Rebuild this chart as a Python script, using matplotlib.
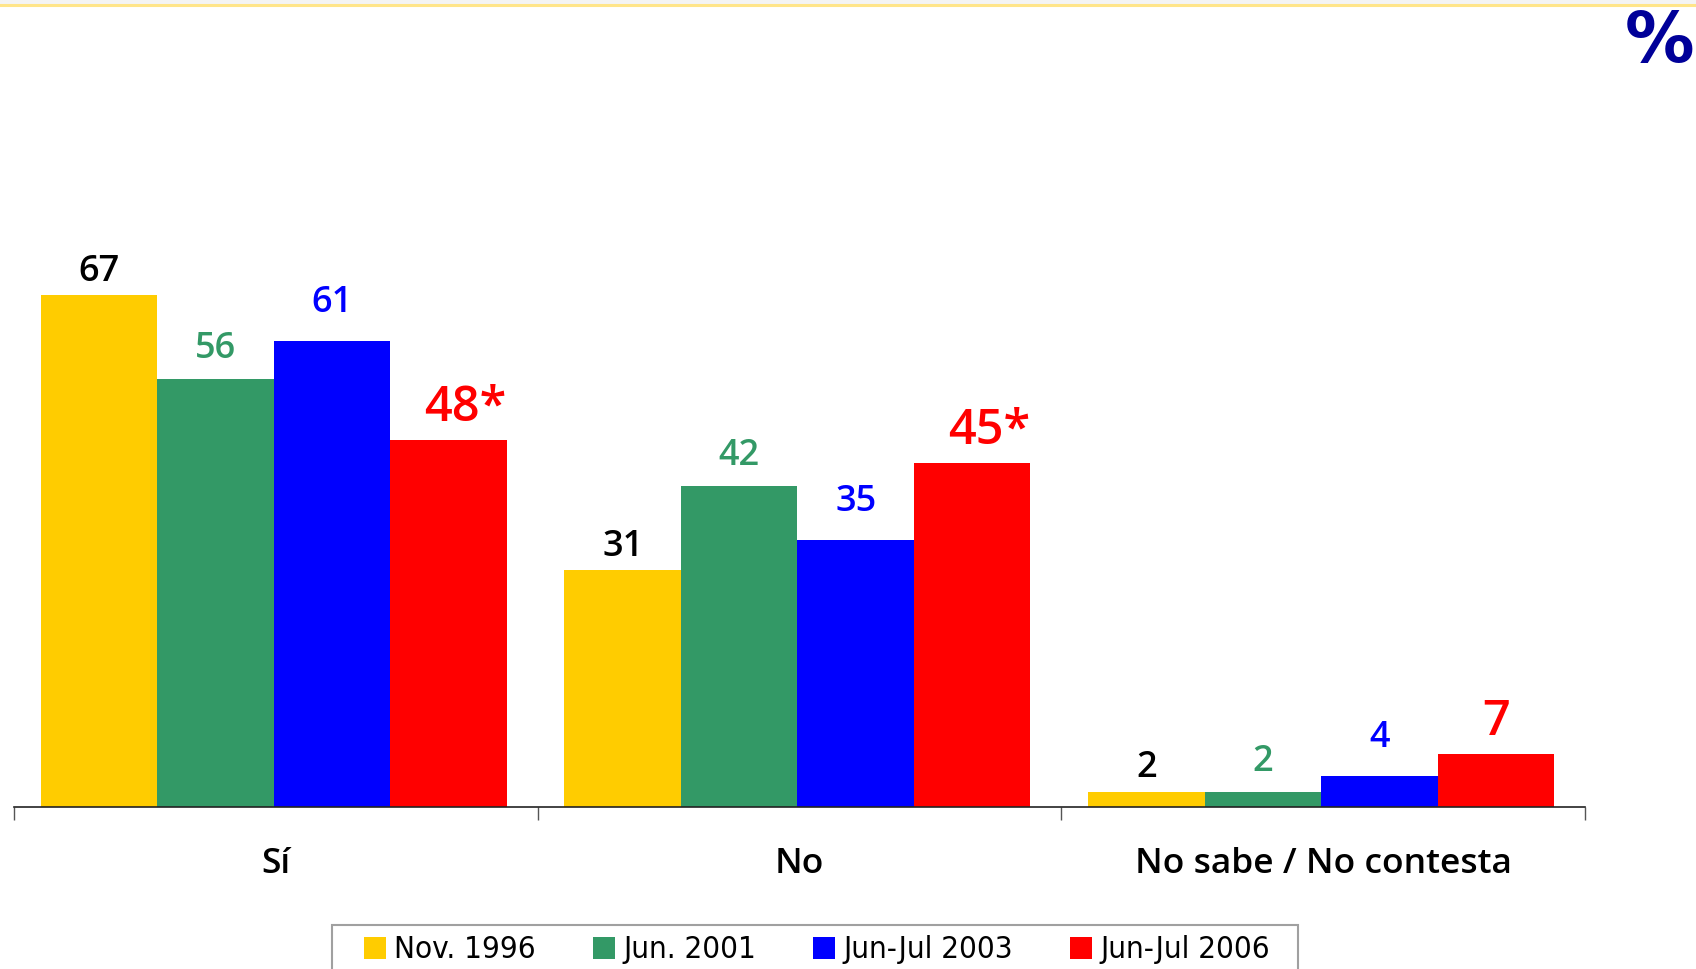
import matplotlib
matplotlib.use("Agg")
import matplotlib.pyplot as plt
import numpy as np
from matplotlib.lines import Line2D
from matplotlib.patches import Rectangle

# Data
categories = ["Sí", "No", "No sabe / No contesta"]
series = ["Nov. 1996", "Jun. 2001", "Jun-Jul 2003", "Jun-Jul 2006"]
nov_1996 = [67, 31, 2]
jun_2001 = [56, 42, 2]
junjul_2003 = [61, 35, 4]
junjul_2006 = [48, 45, 7]
junjul_2006_marks = ["*", "*", ""]

values = [nov_1996, jun_2001, junjul_2003, junjul_2006]
marks = [[""] * 3, [""] * 3, [""] * 3, junjul_2006_marks]
bar_colors = ["#FFCC00", "#339966", "#0000FF", "#FF0000"]
text_colors = ["#000000", "#339966", "#0000FF", "#FF0000"]
text_sizes = [26, 26, 26, 35]
text_offsets = [4, 8.5, 14.5, 5]  # points above the bar

plt.rcParams["font.family"] = ["Open Sans", "DejaVu Sans"]

W, H = 1696, 969
fig = plt.figure(figsize=(W / 100, H / 100), dpi=100)

# thin band + yellow rule at the top
fig.patches.append(Rectangle((0, 1 - 3 / H), 1, 3 / H, transform=fig.transFigure,
                             color="#F4F4F4", zorder=0))
fig.lines.append(Line2D([0, 1], [1 - 4.5 / H, 1 - 4.5 / H], transform=fig.transFigure,
                        color="#FFE58A", lw=2.2))

ax = fig.add_axes([14 / W, 1 - 807 / H, (1585 - 14) / W, 611 / H])

x = np.arange(len(categories))
width = 0.2224
for i, (vals, col) in enumerate(zip(values, bar_colors)):
    pos = x + (i - 1.5) * width - 0.004
    ax.bar(pos, vals, width, color=col, label=series[i], zorder=2)
    for px, v, m in zip(pos, vals, marks[i]):
        ax.annotate(f"{v}{m}", (px, v), xytext=(12 if m else 0, text_offsets[i]),
                    textcoords="offset points", ha="center", va="bottom",
                    fontsize=text_sizes[i], color=text_colors[i], fontweight="semibold")

ax.set_xlim(-0.5, 2.5)
ax.set_ylim(0, 80)
ax.set_yticks([])
for s in ["left", "right", "top"]:
    ax.spines[s].set_visible(False)
ax.spines["bottom"].set_color("#222222")
ax.spines["bottom"].set_linewidth(1.2)

ax.set_xticks(x)
ax.set_xticklabels(categories, fontsize=25.5, fontweight="semibold")
ax.tick_params(axis="x", which="major", length=0, pad=29)
ax.set_xticks([-0.5, 0.5, 1.5, 2.5], minor=True)
ax.tick_params(axis="x", which="minor", length=9.5, width=1, color="#555555", direction="out")

# percent sign
fig.text(1694 / W, 1 - 62 / H, "%", fontsize=50, fontweight="bold", color="#000099",
         ha="right", va="baseline", family=["DejaVu Sans"])

# legend box, open at the bottom edge of the picture
fig.patches.append(Rectangle((332 / W, -0.02), (1298 - 332) / W, 1 - 925 / H + 0.02,
                             transform=fig.transFigure, facecolor="white",
                             edgecolor="#A0A0A0", lw=1.5, zorder=1))
leg = fig.legend(loc="center left", bbox_to_anchor=(364 / W, 1 - 950 / H), ncol=4,
                 frameon=False,
                 prop={"family": "DejaVu Sans", "stretch": "condensed", "size": 22.5},
                 handlelength=0.7, handleheight=0.7, handletextpad=0.27,
                 columnspacing=1.82, borderpad=0, borderaxespad=0)
leg.set_zorder(3)

fig.savefig("out.png", dpi=100)
